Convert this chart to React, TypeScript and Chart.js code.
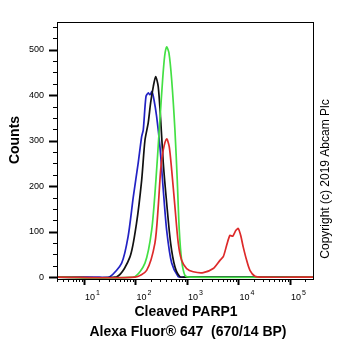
import React, { useEffect, useRef } from "react";
import { Chart, registerables } from "chart.js";

Chart.register(...registerables);

// Fluorescence (x) and counts (y) for each histogram
const blueX = [3, 20, 32, 54, 72, 91, 113, 132, 142, 160, 177, 191, 209, 229, 258, 299, 347, 404, 505, 678, 789, 280000];
const blueY = [0, 0, 1, 31, 89, 177, 251, 309, 324, 397, 405, 401, 408, 390, 353, 287, 192, 103, 31, 1, 0, 0];

const blackX = [3, 43, 78, 105, 132, 153, 177, 197, 222, 247, 277, 309, 347, 404, 482, 584, 731, 914, 280000];
const blackY = [0, 1, 44, 119, 213, 301, 339, 383, 419, 441, 419, 346, 251, 163, 75, 23, 1, 0, 0];

const greenX = [3, 91, 153, 207, 250, 290, 337, 369, 404, 447, 505, 584, 648, 709, 789, 914, 1143, 280000];
const greenY = [0, 0, 31, 104, 214, 324, 434, 486, 506, 493, 434, 324, 214, 104, 37, 4, 0, 0];

const redX = [3, 98, 165, 239, 277, 309, 347, 404, 453, 505, 584, 678, 789, 986, 1324, 2073, 3243, 4375, 5070, 5900, 6840, 7720, 8940, 9910, 11030, 12390, 14420, 16710, 20900, 28200, 280000];
const redY = [0, 0, 15, 75, 155, 236, 280, 304, 287, 236, 155, 75, 37, 19, 12, 10, 19, 37, 45, 70, 92, 90, 103, 107, 92, 66, 37, 15, 2, 0, 0];

const yMajorTicks = [0, 100, 200, 300, 400, 500];
const xMajorExponents = [1, 2, 3, 4, 5];

const FONT = "'Liberation Sans', Arial, sans-serif";

const pts = (xs: number[], ys: number[]) => xs.map((x, i) => ({ x, y: ys[i] }));

const axisPlugin = {
  id: "flowAxes",
  afterDraw(chart: any) {
    const ctx = chart.ctx as CanvasRenderingContext2D;
    const area = chart.chartArea;
    const xs = chart.scales.x;
    const ys = chart.scales.y;
    ctx.save();
    ctx.strokeStyle = "#000";
    ctx.fillStyle = "#000";
    ctx.lineWidth = 1;
    // frame
    ctx.strokeRect(Math.round(area.left) + 0.5, Math.round(area.top) + 0.5, Math.round(area.right - area.left), Math.round(area.bottom - area.top));

    // y ticks
    for (let v = 0; v <= 550; v += 25) {
      const py = Math.round(ys.getPixelForValue(v)) + 0.5;
      const major = v % 100 === 0;
      ctx.lineWidth = major ? 2 : 1;
      ctx.beginPath();
      ctx.moveTo(area.left - (major ? 8 : 4), py);
      ctx.lineTo(area.left, py);
      ctx.stroke();
    }
    ctx.font = `9px ${FONT}`;
    ctx.textAlign = "right";
    ctx.textBaseline = "middle";
    yMajorTicks.forEach((v) => {
      ctx.fillText(String(v), area.left - 13, ys.getPixelForValue(v));
    });

    // x ticks
    for (let e = 0; e <= 5; e++) {
      for (let k = 1; k <= 9; k++) {
        const val = k * Math.pow(10, e);
        if (val < xs.min || val > xs.max) continue;
        const px = Math.round(xs.getPixelForValue(val)) + 0.5;
        const major = k === 1;
        ctx.lineWidth = major ? 2 : 1;
        ctx.beginPath();
        ctx.moveTo(px, area.bottom);
        ctx.lineTo(px, area.bottom + (major ? 6 : 3));
        ctx.stroke();
      }
    }
    xMajorExponents.forEach((e) => {
      const px = xs.getPixelForValue(Math.pow(10, e));
      ctx.textAlign = "left";
      ctx.textBaseline = "alphabetic";
      ctx.font = `9px ${FONT}`;
      ctx.fillText("10", px + 1, 300);
      const w = ctx.measureText("10").width;
      ctx.font = `7px ${FONT}`;
      ctx.fillText(String(e), px + 2 + w, 295);
    });

    // titles
    ctx.font = `bold 14px ${FONT}`;
    ctx.textAlign = "center";
    ctx.textBaseline = "middle";
    ctx.fillText("Cleaved PARP1", 186, 312);
    ctx.fillText("Alexa Fluor® 647  (670/14 BP)", 188, 332);

    ctx.save();
    ctx.translate(15, 140);
    ctx.rotate(-Math.PI / 2);
    ctx.fillText("Counts", 0, 0);
    ctx.restore();

    ctx.save();
    ctx.font = `12px ${FONT}`;
    ctx.translate(326, 179);
    ctx.rotate(-Math.PI / 2);
    ctx.fillText("Copyright (c) 2019 Abcam Plc", 0, 0);
    ctx.restore();

    ctx.restore();
  },
};

export default function App() {
  const ref = useRef<HTMLCanvasElement>(null);
  useEffect(() => {
    if (!ref.current) return;
    const ds = (label: string, data: any[], color: string) => ({
      label,
      data,
      borderColor: color,
      backgroundColor: color,
      borderWidth: 1.7,
      pointRadius: 0,
      tension: 0.25,
      fill: false,
    });
    const chart = new Chart(ref.current, {
      type: "line",
      data: {
        datasets: [
          ds("red", pts(redX, redY), "#dd2a2a"),
          ds("green", pts(greenX, greenY), "#44e044"),
          ds("black", pts(blackX, blackY), "#111111"),
          ds("blue", pts(blueX, blueY), "#2222c4"),
        ],
      },
      options: {
        responsive: false,
        animation: false,
        layout: { padding: { left: 57, top: 22, right: 49, bottom: 72 } },
        scales: {
          x: { type: "logarithmic", min: 3, max: 280000, display: false },
          y: { type: "linear", min: -4, max: 561, display: false },
        },
        plugins: { legend: { display: false }, tooltip: { enabled: false } },
      },
      plugins: [axisPlugin],
    });
    return () => chart.destroy();
  }, []);
  return (
    <div style={{ position: "fixed", left: 0, top: 0, width: 362, height: 351, background: "#fff" }}>
      <canvas ref={ref} width={362} height={351} style={{ width: 362, height: 351 }} />
    </div>
  );
}
